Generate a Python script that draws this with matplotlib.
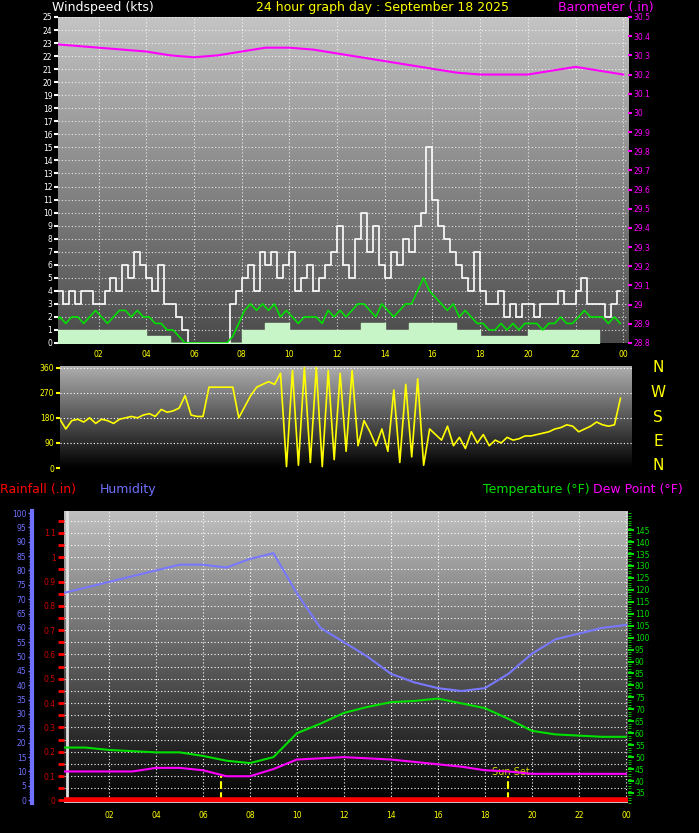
import numpy as np
import matplotlib
matplotlib.use("Agg")
import matplotlib.pyplot as plt
from matplotlib.colors import LinearSegmentedColormap

hour_ticks = [2, 4, 6, 8, 10, 12, 14, 16, 18, 20, 22, 24]
hour_labels = ["02", "04", "06", "08", "10", "12", "14", "16", "18", "20", "22", "00"]

# quarter-hour wind data (4 per hour, hours 0..23)
gust = [3,4,3,4, 3,4,4,3, 3,4,5,4, 6,5,7,6, 5,4,6,3, 3,2,1,0, 0,0,0,0, 0,0,3,4,
        5,6,4,7, 6,7,5,6, 7,4,5,6, 4,5,6,7, 9,6,5,8, 10,7,9,6, 5,7,6,8, 7,9,10,15,
        11,9,8,7, 6,5,4,7, 4,3,3,4, 2,3,2,3, 3,2,3,3, 3,4,3,3, 4,5,3,3, 3,2,3,4]
avg = [1.5,2,1.5,2, 2,1.5,2,2.5, 2,1.5,2,2.5, 2.5,2,2.5,2, 2,1.5,1.5,1, 1,0.5,0,0,
       0,0,0,0, 0,0,0.5,1.5, 2.5,3,2.5,3, 2.5,3,2,2.5, 2,1.5,2,2, 2,1.5,2.5,2,
       2.5,2,2.5,3, 3,2.5,2,3, 2.5,2,2.5,3, 3,4,5,4, 3.5,3,2.5,3, 2,2.5,2,1.5,
       1.5,1,1,1.5, 1,1.5,1,1.5, 1.5,1.5,1,1.5, 1.5,2,1.5,1.5, 2,2.5,2,2, 2,1.5,2,1.5]
lull = [1,1,1,1,0.5,0,0,0,1,1.5,1,1,1,1.5,1,1.5,1.5,1,0.5,0.5,1,1,1,1]
direction = [160,175,140,170, 175,165,180,160, 175,170,160,175, 180,185,180,190,
             195,185,210,200, 205,215,260,190, 185,185,290,290, 290,290,290,180,
             220,260,290,300, 310,300,340,5, 350,10,360,20, 360,5,350,30,
             340,60,350,80, 170,130,80,140, 60,280,20,300, 40,320,10,140,
             120,100,150,80, 110,70,130,90, 120,80,100,90, 110,100,105,115,
             115,120,125,130, 140,145,155,150, 130,140,150,165, 155,150,155,250]
# hourly values at hours 0..24
barometer = [30.36,30.35,30.34,30.33,30.32,30.30,30.29,30.30,30.32,30.34,30.34,30.33,30.31,
             30.29,30.27,30.25,30.23,30.21,30.20,30.20,30.20,30.22,30.24,30.22,30.20]
humidity = [72,74,76,78,80,82,82,81,84,86,72,60,55,50,44,41,39,38,39,44,51,56,58,60,61]
temperature = [54,54,53,52.5,52,52,50.5,48.5,47.5,50,60,64,68.5,71,73,73.5,74.5,72.5,70.5,66,61,59.5,59,58.5,58.5]
dewpoint = [44,44,44,44,45.5,45.5,44.5,42,42,45,49,49.5,50,49.5,49,48,47,46,44.5,44,43,43,43,43,43]
rainfall = [0]*25
sunrise, sunset = 6.77, 19.0

tq = np.arange(96) * 0.25 + 0.125
th = np.arange(25)

W, H = 699, 833
fig = plt.figure(figsize=(W/100, H/100), dpi=100, facecolor="black")

def rect(x0, y0, x1, y1):
    return [x0/W, 1 - y1/H, (x1-x0)/W, (y1-y0)/H]

def bg(ax, top, bottom):
    c = np.linspace(0, 1, 256)[:, None]
    cm = LinearSegmentedColormap.from_list("g", [top, bottom])
    ax.imshow(c, aspect="auto", cmap=cm, extent=[0, 1, 0, 1], transform=ax.transAxes, zorder=0)

def style(ax):
    ax.set_facecolor("black")
    for s in ax.spines.values():
        s.set_visible(False)

fs = 5.5
# ---------- top panel ----------
ax1 = fig.add_axes(rect(58, 17, 628, 343))
style(ax1)
bg(ax1, "#c4c4c4", "#4a4a4a")
ax1.set_xlim(0.3, 24.2); ax1.set_ylim(0, 25)
ax1.set_yticks(range(0, 26))
ax1.set_yticklabels([str(i) for i in range(26)], color="white", fontsize=fs)
ax1.set_xticks(hour_ticks); ax1.set_xticklabels(hour_labels, color="yellow", fontsize=fs)
ax1.tick_params(axis="y", colors="white", length=3, width=1.5, labelcolor="white", pad=1)
ax1.tick_params(axis="x", length=0, pad=5, labelcolor="yellow")
ax1.grid(True, color="white", ls=(0, (1, 2)), lw=0.8, alpha=0.8)
ax1.fill_between(np.arange(24), lull, step="post", color="#c8f5c8", zorder=2)
ax1.step(tq, gust, where="mid", color="white", lw=1.2, zorder=3)
ax1.plot(tq, avg, color="#00e000", lw=1.2, zorder=4)
ax1b = ax1.twinx(); style(ax1b)
ax1b.set_ylim(28.8, 30.5)
bt = np.round(np.arange(28.8, 30.51, 0.1), 1)
ax1b.set_yticks(bt)
ax1b.set_yticklabels([f"{v:g}" for v in bt], color="#ff00ff", fontsize=fs)
ax1b.tick_params(axis="y", colors="#ff00ff", length=3, width=1.5, labelcolor="#ff00ff", pad=1)
ax1b.plot(th, barometer, color="#ff00ff", lw=1.5, zorder=5)
fig.text(52/W, 1-8/H, "Windspeed (kts)", color="white", fontsize=9, va="center")
fig.text(382/W, 1-8/H, "24 hour graph day : September 18 2025", color="yellow", fontsize=9, va="center", ha="center")
fig.text(558/W, 1-7/H, "Barometer (.in)", color="#ff00ff", fontsize=9, va="center")

# ---------- direction panel ----------
ax2 = fig.add_axes(rect(60, 366, 632, 468))
style(ax2)
bg(ax2, "#b0b0b0", "#000000")
ax2.set_xlim(0.38, 24.36); ax2.set_ylim(0, 366)
ax2.set_yticks([0, 90, 180, 270, 360])
ax2.set_yticklabels(["0", "90", "180", "270", "360"], color="yellow", fontsize=fs)
ax2.tick_params(axis="y", colors="yellow", length=3, width=1.5, labelcolor="yellow", pad=1)
ax2.set_xticks([])
for v in [90, 180, 270, 360]:
    ax2.axhline(v, color="white", ls=(0, (1, 2)), lw=0.8)
ax2.plot(tq, direction, color="yellow", lw=1.2)
for i, ch in enumerate("NWSEN"):
    fig.text(658/W, 1-(368+i*24.5)/H, ch, color="yellow", fontsize=11, ha="center", va="center")

# ---------- bottom panel ----------
ax3 = fig.add_axes(rect(64, 511, 628, 803))
style(ax3)
bg(ax3, "#c0c0c0", "#000000")
ax3.set_xlim(0.085, 24.09); ax3.set_ylim(-0.011, 1.19)
ax3.set_xticks(hour_ticks); ax3.set_xticklabels(hour_labels, color="yellow", fontsize=fs)
ax3.tick_params(axis="x", length=0, pad=6, labelcolor="yellow")
rt = np.round(np.arange(0, 1.11, 0.1), 1)
ax3.set_yticks(rt); ax3.set_yticklabels([f"{v:g}" for v in rt], fontsize=fs)
ax3.tick_params(axis="y", colors="red", length=4, width=2, labelcolor="#cc0000", pad=2)
ax3.set_yticks(np.arange(0.05, 1.19, 0.05), minor=True)
ax3.tick_params(axis="y", which="minor", colors="red", length=4, width=2)
for v in np.arange(0.05, 1.19, 0.05):
    ax3.axhline(v, color="white", ls=(0, (1, 2)), lw=0.8, zorder=1)
for v in hour_ticks:
    ax3.axvline(v, color="white", ls=(0, (1, 2)), lw=0.8, zorder=1)
ax3.axvline(0.23, color="#e0e0e0", lw=2, zorder=1)
ax3.plot(th, rainfall, color="red", lw=4, zorder=6)
ax3.axhline(-0.011, color="#d0d0d0", lw=2, zorder=6)
ax3.plot([sunrise, sunrise], [0, 0.1], color="yellow", ls="--", lw=1.5, zorder=5)
ax3.plot([sunset, sunset], [0, 0.1], color="yellow", ls="--", lw=1.5, zorder=5)
ax3.text(sunset - 0.7, 0.105, "Sun Set", color="#d8d800", fontsize=7)

axh = ax3.twinx(); style(axh)
axh.yaxis.tick_left(); axh.yaxis.set_label_position("left")
axh.spines["left"].set_visible(True)
axh.spines["left"].set_position(("axes", -(64-32)/564))
axh.spines["left"].set_color("#7070ff"); axh.spines["left"].set_linewidth(3)
axh.set_ylim(-1, 100.7)
axh.set_yticks(range(0, 101, 5))
axh.set_yticklabels([str(v) for v in range(0, 101, 5)], fontsize=fs)
axh.set_yticks(range(0, 101, 1), minor=True)
axh.tick_params(axis="y", colors="#7070ff", length=3, width=1, labelcolor="#7070ff", pad=1)
axh.tick_params(axis="y", which="minor", colors="#7070ff", length=2)
axh.plot(th, humidity, color="#7878ff", lw=1.5, zorder=4)

axt = ax3.twinx(); style(axt)
axt.set_ylim(30.8, 153)
axt.set_yticks(range(35, 146, 5))
axt.set_yticklabels([str(v) for v in range(35, 146, 5)], fontsize=fs)
axt.set_yticks(range(31, 153, 1), minor=True)
axt.tick_params(axis="y", colors="#00e000", length=4, width=1.5, labelcolor="#00e000", pad=1)
axt.tick_params(axis="y", which="minor", colors="#00e000", length=2)
axt.plot(th, temperature, color="#00e000", lw=1.5, zorder=4)
axt.plot(th, dewpoint, color="#ff00ff", lw=1.5, zorder=4)

fig.text(0/W, 1-490/H, "Rainfall (.in)", color="red", fontsize=9, va="center")
fig.text(100/W, 1-490/H, "Humidity", color="#7070ff", fontsize=9, va="center")
fig.text(590/W, 1-490/H, "Temperature (°F)", color="#00e000", fontsize=9, va="center", ha="right")
fig.text(593/W, 1-490/H, "Dew Point (°F)", color="#ff00ff", fontsize=9, va="center")

fig.savefig("out.png", dpi=100, facecolor="black")
